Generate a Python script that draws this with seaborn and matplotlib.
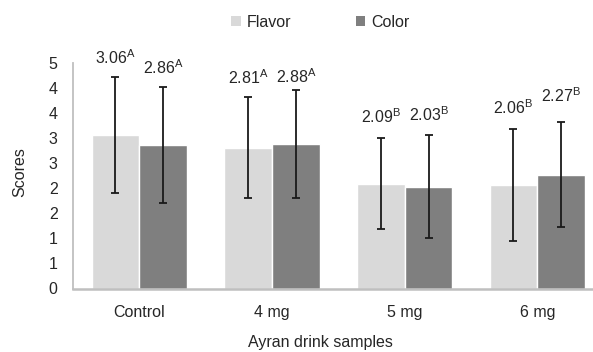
import matplotlib
matplotlib.use("Agg")
import matplotlib.pyplot as plt
import seaborn as sns
import pandas as pd
import numpy as np
from matplotlib.patches import Patch
from matplotlib.ticker import FuncFormatter

samples = ["Control", "4 mg", "5 mg", "6 mg"]
flavor_mean = [3.06, 2.81, 2.09, 2.06]
color_mean = [2.86, 2.88, 2.03, 2.27]
flavor_sd = [1.15, 1.01, 0.90, 1.11]
color_sd = [1.16, 1.08, 1.03, 1.05]
flavor_letters = ["A", "A", "B", "B"]
color_letters = ["A", "A", "B", "B"]
series = ["Flavor", "Color"]

# layout: label offsets above error bar tops (pixels)
flavor_label_off = [20, 19, 22, 22]
color_label_off = [19, 13, 20, 26]

sns.set_theme(style="white")
plt.rcParams["font.family"] = ["Liberation Sans", "DejaVu Sans"]
plt.rcParams["mathtext.fontset"] = "custom"
plt.rcParams["mathtext.rm"] = "Liberation Sans"
plt.rcParams["mathtext.it"] = "Liberation Sans"

TXT = "#262626"
FS = 11.5
colors = {"Flavor": "#d9d9d9", "Color": "#7f7f7f"}

df = pd.DataFrame({
    "Sample": samples * 2,
    "Series": ["Flavor"] * 4 + ["Color"] * 4,
    "Mean": flavor_mean + color_mean,
})

fig = plt.figure(figsize=(5.93, 3.52), dpi=100)
ax = fig.add_axes([73 / 593, 63.5 / 352, 530.7 / 593, 225.8 / 352])

sns.barplot(data=df, x="Sample", y="Mean", hue="Series", order=samples,
            hue_order=series, palette=colors, width=0.72, gap=0,
            errorbar=None, saturation=1, ax=ax, legend=False)

ax.set_xlim(-0.5, 3.5)
ax.set_ylim(0, 4.5)
ax.set_yticks(np.arange(0, 4.51, 0.5))
ax.yaxis.set_major_formatter(FuncFormatter(lambda v, p: f"{int(np.floor(v + 0.5 + 1e-9))}"))

means = {"Flavor": flavor_mean, "Color": color_mean}
sds = {"Flavor": flavor_sd, "Color": color_sd}
letters = {"Flavor": flavor_letters, "Color": color_letters}
offs = {"Flavor": flavor_label_off, "Color": color_label_off}

patches = sorted([p for p in ax.patches if p.get_height() > 0], key=lambda p: p.get_x())
# pair patches per category: order by x, alternating Flavor, Color
for i, p in enumerate(patches):
    s = series[i % 2]
    k = i // 2
    xc = p.get_x() + p.get_width() / 2
    m = means[s][k]
    sd = sds[s][k]
    ax.errorbar(xc, m, yerr=sd, fmt="none", ecolor="#1a1a1a", elinewidth=1.3,
                capsize=2.6, capthick=1.3, zorder=5)
    ax.annotate(f"{m:.2f}$^{{\\mathrm{{{letters[s][k]}}}}}$", xy=(xc, m + sd),
                xytext=(0, offs[s][k] * 0.72), textcoords="offset points",
                ha="center", va="center", fontsize=FS, color=TXT,
                annotation_clip=False)

for sp in ["top", "right"]:
    ax.spines[sp].set_visible(False)
ax.spines["left"].set_color("#bfbfbf")
ax.spines["left"].set_linewidth(1.3)
ax.spines["bottom"].set_color("#bfbfbf")
ax.spines["bottom"].set_linewidth(1.8)
ax.tick_params(axis="both", length=0, labelsize=FS, labelcolor=TXT)
ax.tick_params(axis="y", pad=11)
ax.tick_params(axis="x", pad=12)
ax.set_xlabel("")
ax.set_ylabel("")

fig.text(20 / 593, 1 - 172 / 352, "Scores", rotation=90, ha="center", va="center",
         fontsize=FS, color=TXT)
fig.text(320 / 593, 1 - 343 / 352, "Ayran drink samples", ha="center", va="center",
         fontsize=FS, color=TXT)

handles = [Patch(facecolor=colors[s], edgecolor="none", label=s) for s in series]
fig.legend(handles=handles, loc="center", bbox_to_anchor=(320.5 / 593, 1 - 22.5 / 352),
           ncol=2, frameon=False, fontsize=FS, handlelength=0.6, handleheight=0.6,
           handletextpad=0.4, columnspacing=4.0, labelcolor=TXT)

fig.savefig("out.png", dpi=100)
